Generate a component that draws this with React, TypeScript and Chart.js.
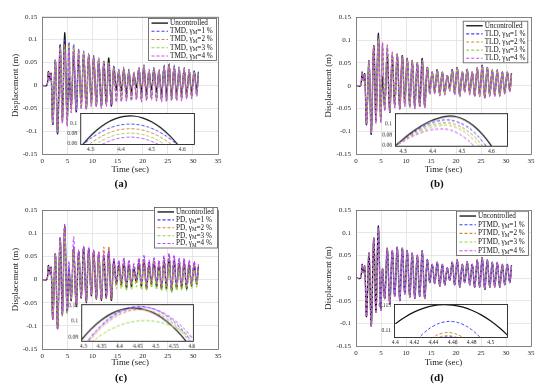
import React, { useEffect, useRef } from "react";
import { Chart, registerables } from "chart.js";
Chart.register(...registerables);

const FONT = "'Liberation Serif', 'Times New Roman', serif";

// ---------- main time-history data ----------
const TIME = [0, 0.9, 1.2, 1.5, 1.75, 2.1, 2.6, 3.05, 3.55, 4.0, 4.45, 4.95, 5.3,
  5.75, 6.25, 6.75, 7.25, 7.75, 8.25, 8.75, 9.25, 9.75, 10.25,
  10.75, 11.25, 11.75, 12.25, 12.75, 13.25, 13.75, 14.25, 14.75, 15.25,
  15.75, 16.25, 16.75, 17.25, 17.75, 18.25, 18.75, 19.25, 19.75, 20.25,
  20.75, 21.25, 21.75, 22.25, 22.75, 23.25, 23.75, 24.25, 24.75, 25.25,
  25.75, 26.25, 26.75, 27.25, 27.75, 28.25, 28.75, 29.25, 29.75, 30.25,
  30.75, 31.1];
const X_TICKS = [0, 5, 10, 15, 20, 25, 30, 35];
const Y_TICKS = [-0.15, -0.1, -0.05, 0, 0.05, 0.1, 0.15];
const LEVELS = [1, 2, 3, 4];

const UNCONTROLLED = [0, 0, 0.03, 0.012, 0.026, -0.085, 0.055, -0.106, 0.088, -0.075, 0.115, -0.07, 0.02,
  -0.045, 0.066, -0.058, 0.06, -0.04, 0.068, -0.05, 0.066, -0.035, 0.06,
  -0.042, 0.055, -0.045, 0.05, -0.04, 0.06, -0.045, 0.04, -0.01, 0.03,
  -0.012, 0.035, -0.018, 0.03, -0.015, 0.022, -0.005, 0.035, -0.015, 0.04,
  -0.02, 0.03, -0.01, 0.036, -0.015, 0.03, -0.02, 0.04, -0.02, 0.045,
  -0.025, 0.04, -0.02, 0.035, -0.02, 0.035, -0.02, 0.03, -0.015, 0.03,
  -0.01, 0.028];

const TMD_1 = [0, 0, 0.03, 0.012, 0.026, -0.085, 0.055, -0.105, 0.087, -0.078, 0.099, -0.08, 0.095,
  -0.05, 0.09, -0.055, 0.08, -0.045, 0.075, -0.05, 0.07, -0.04, 0.065,
  -0.045, 0.06, -0.045, 0.055, -0.04, 0.05, -0.045, 0.042, -0.03, 0.035,
  -0.03, 0.04, -0.032, 0.035, -0.03, 0.03, -0.025, 0.04, -0.03, 0.045,
  -0.03, 0.035, -0.025, 0.04, -0.03, 0.035, -0.03, 0.045, -0.03, 0.048,
  -0.03, 0.045, -0.03, 0.04, -0.028, 0.04, -0.025, 0.035, -0.025, 0.032,
  -0.02, 0.03];
const TMD_2 = [0, 0, 0.03, 0.012, 0.025, -0.084, 0.054, -0.103, 0.085, -0.08, 0.09, -0.085, 0.09,
  -0.055, 0.085, -0.05, 0.078, -0.048, 0.072, -0.05, 0.068, -0.042, 0.062,
  -0.045, 0.058, -0.046, 0.052, -0.042, 0.05, -0.04, 0.04, -0.032, 0.032,
  -0.032, 0.038, -0.03, 0.032, -0.03, 0.03, -0.028, 0.038, -0.032, 0.042,
  -0.03, 0.033, -0.028, 0.038, -0.03, 0.033, -0.032, 0.042, -0.032, 0.045,
  -0.03, 0.042, -0.03, 0.038, -0.03, 0.038, -0.026, 0.033, -0.025, 0.03,
  -0.02, 0.028];
const TMD_3 = [0, 0, 0.03, 0.011, 0.024, -0.083, 0.053, -0.1, 0.083, -0.082, 0.081, -0.088, 0.085,
  -0.058, 0.08, -0.052, 0.075, -0.05, 0.07, -0.052, 0.065, -0.045, 0.06,
  -0.046, 0.055, -0.048, 0.05, -0.044, 0.048, -0.042, 0.038, -0.035, 0.03,
  -0.034, 0.036, -0.032, 0.03, -0.032, 0.028, -0.03, 0.036, -0.034, 0.04,
  -0.032, 0.031, -0.03, 0.036, -0.032, 0.031, -0.034, 0.04, -0.034, 0.043,
  -0.032, 0.04, -0.032, 0.036, -0.032, 0.036, -0.028, 0.031, -0.027, 0.028,
  -0.022, 0.026];
const TMD_4 = [0, 0, 0.03, 0.011, 0.023, -0.082, 0.052, -0.098, 0.08, -0.083, 0.0735, -0.09, 0.08,
  -0.06, 0.075, -0.055, 0.072, -0.052, 0.068, -0.054, 0.062, -0.047, 0.058,
  -0.048, 0.052, -0.05, 0.048, -0.046, 0.046, -0.044, 0.036, -0.037, 0.028,
  -0.036, 0.034, -0.034, 0.028, -0.034, 0.026, -0.032, 0.034, -0.036, 0.038,
  -0.034, 0.029, -0.032, 0.034, -0.034, 0.029, -0.036, 0.038, -0.036, 0.041,
  -0.034, 0.038, -0.034, 0.034, -0.034, 0.034, -0.03, 0.029, -0.029, 0.026,
  -0.024, 0.024];

const TLD_1 = [0, 0, 0.03, 0.012, 0.026, -0.085, 0.055, -0.105, 0.087, -0.078, 0.11, -0.075, 0.085,
  -0.05, 0.08, -0.06, 0.068, -0.045, 0.07, -0.052, 0.066, -0.04, 0.06,
  -0.045, 0.056, -0.048, 0.05, -0.045, 0.058, -0.045, 0.04, -0.015, 0.03,
  -0.015, 0.035, -0.02, 0.03, -0.017, 0.023, -0.008, 0.035, -0.017, 0.04,
  -0.021, 0.031, -0.012, 0.036, -0.017, 0.031, -0.021, 0.04, -0.021, 0.045,
  -0.026, 0.04, -0.021, 0.035, -0.021, 0.035, -0.021, 0.03, -0.016, 0.03,
  -0.011, 0.028];
const TLD_2 = [0, 0, 0.03, 0.012, 0.025, -0.084, 0.054, -0.104, 0.086, -0.079, 0.105, -0.078, 0.09,
  -0.052, 0.085, -0.058, 0.07, -0.046, 0.07, -0.052, 0.064, -0.042, 0.06,
  -0.046, 0.055, -0.05, 0.05, -0.046, 0.056, -0.046, 0.04, -0.017, 0.03,
  -0.016, 0.034, -0.02, 0.03, -0.018, 0.023, -0.01, 0.034, -0.018, 0.04,
  -0.022, 0.031, -0.013, 0.036, -0.018, 0.031, -0.022, 0.04, -0.022, 0.044,
  -0.026, 0.04, -0.022, 0.035, -0.022, 0.035, -0.022, 0.03, -0.017, 0.03,
  -0.012, 0.027];
const TLD_3 = [0, 0, 0.03, 0.011, 0.024, -0.083, 0.053, -0.102, 0.085, -0.08, 0.1, -0.08, 0.092,
  -0.054, 0.088, -0.056, 0.072, -0.047, 0.068, -0.05, 0.062, -0.044, 0.058,
  -0.047, 0.054, -0.05, 0.048, -0.047, 0.054, -0.047, 0.038, -0.018, 0.03,
  -0.017, 0.033, -0.021, 0.029, -0.019, 0.022, -0.011, 0.033, -0.019, 0.039,
  -0.023, 0.03, -0.014, 0.035, -0.019, 0.03, -0.023, 0.039, -0.023, 0.043,
  -0.027, 0.039, -0.023, 0.034, -0.023, 0.034, -0.023, 0.029, -0.018, 0.029,
  -0.013, 0.026];
const TLD_4 = [0, 0, 0.03, 0.011, 0.023, -0.082, 0.052, -0.1, 0.084, -0.082, 0.095, -0.082, 0.095,
  -0.056, 0.09, -0.055, 0.074, -0.048, 0.066, -0.05, 0.06, -0.045, 0.056,
  -0.048, 0.052, -0.05, 0.046, -0.048, 0.052, -0.048, 0.036, -0.019, 0.029,
  -0.018, 0.032, -0.022, 0.028, -0.02, 0.021, -0.012, 0.032, -0.02, 0.038,
  -0.024, 0.029, -0.015, 0.034, -0.02, 0.029, -0.024, 0.038, -0.024, 0.042,
  -0.028, 0.038, -0.024, 0.033, -0.024, 0.033, -0.024, 0.028, -0.019, 0.028,
  -0.014, 0.025];

const PD_1 = [0, 0, 0.03, 0.012, 0.026, -0.085, 0.056, -0.106, 0.09, -0.078, 0.119, -0.07, 0.03,
  -0.04, 0.07, -0.055, 0.062, -0.038, 0.07, -0.048, 0.068, -0.033, 0.062,
  -0.04, 0.058, -0.042, 0.055, -0.036, 0.062, -0.04, 0.045, -0.005, 0.04,
  -0.005, 0.045, -0.01, 0.04, -0.008, 0.032, 0, 0.045, -0.008, 0.05,
  -0.012, 0.04, -0.003, 0.046, -0.008, 0.04, -0.012, 0.05, -0.012, 0.055,
  -0.016, 0.05, -0.012, 0.045, -0.012, 0.044, -0.012, 0.04, -0.008, 0.038,
  -0.004, 0.032];
const PD_2 = [0, 0, 0.03, 0.012, 0.026, -0.085, 0.055, -0.105, 0.088, -0.077, 0.115, -0.07, 0.025,
  -0.045, 0.066, -0.057, 0.06, -0.04, 0.068, -0.05, 0.066, -0.035, 0.062,
  -0.042, 0.06, -0.044, 0.07, -0.04, 0.072, -0.042, 0.042, -0.01, 0.034,
  -0.01, 0.038, -0.015, 0.034, -0.012, 0.026, -0.004, 0.038, -0.012, 0.043,
  -0.017, 0.034, -0.008, 0.04, -0.012, 0.034, -0.017, 0.043, -0.017, 0.048,
  -0.022, 0.043, -0.017, 0.038, -0.017, 0.038, -0.017, 0.034, -0.012, 0.033,
  -0.008, 0.03];
const PD_3 = [0, 0, 0.03, 0.011, 0.024, -0.083, 0.052, -0.1, 0.083, -0.08, 0.101, -0.075, 0.01,
  -0.04, 0.055, -0.045, 0.05, -0.035, 0.055, -0.04, 0.052, -0.03, 0.048,
  -0.035, 0.045, -0.036, 0.042, -0.032, 0.045, -0.035, 0.03, -0.02, 0.02,
  -0.02, 0.022, -0.024, 0.02, -0.022, 0.014, -0.016, 0.022, -0.022, 0.025,
  -0.025, 0.02, -0.018, 0.023, -0.022, 0.02, -0.025, 0.026, -0.025, 0.03,
  -0.028, 0.026, -0.024, 0.023, -0.024, 0.022, -0.024, 0.02, -0.02, 0.02,
  -0.016, 0.018];
const PD_4 = [0, 0, 0.03, 0.012, 0.026, -0.085, 0.056, -0.106, 0.092, -0.076, 0.118, -0.068, 0.04,
  -0.038, 0.092, -0.054, 0.064, -0.037, 0.072, -0.047, 0.07, -0.032, 0.064,
  -0.039, 0.06, -0.041, 0.056, -0.035, 0.064, -0.039, 0.047, -0.004, 0.042,
  -0.004, 0.047, -0.009, 0.042, -0.007, 0.034, 0.001, 0.047, -0.007, 0.052,
  -0.011, 0.042, -0.002, 0.048, -0.007, 0.042, -0.011, 0.052, -0.011, 0.057,
  -0.015, 0.052, -0.011, 0.047, -0.011, 0.046, -0.011, 0.042, -0.007, 0.04,
  -0.003, 0.033];

const PTMD_1 = [0, 0, 0.03, 0.012, 0.026, -0.085, 0.055, -0.105, 0.087, -0.075, 0.112, -0.07, 0.02,
  -0.045, 0.065, -0.057, 0.06, -0.04, 0.067, -0.05, 0.065, -0.035, 0.06,
  -0.042, 0.055, -0.044, 0.05, -0.04, 0.059, -0.045, 0.04, -0.01, 0.03,
  -0.012, 0.034, -0.018, 0.03, -0.015, 0.022, -0.005, 0.034, -0.015, 0.04,
  -0.02, 0.03, -0.01, 0.035, -0.015, 0.03, -0.02, 0.04, -0.02, 0.044,
  -0.024, 0.04, -0.02, 0.035, -0.02, 0.034, -0.02, 0.03, -0.015, 0.03,
  -0.01, 0.028];
const PTMD_2 = [0, 0, 0.03, 0.012, 0.026, -0.085, 0.055, -0.105, 0.087, -0.075, 0.1095, -0.07, 0.02,
  -0.045, 0.065, -0.057, 0.06, -0.04, 0.067, -0.05, 0.065, -0.035, 0.06,
  -0.042, 0.055, -0.044, 0.05, -0.04, 0.059, -0.045, 0.04, -0.01, 0.03,
  -0.012, 0.034, -0.018, 0.03, -0.015, 0.022, -0.005, 0.034, -0.015, 0.04,
  -0.02, 0.03, -0.01, 0.035, -0.015, 0.03, -0.02, 0.04, -0.02, 0.044,
  -0.024, 0.04, -0.02, 0.035, -0.02, 0.034, -0.02, 0.03, -0.015, 0.03,
  -0.01, 0.028];
const PTMD_3 = [0, 0, 0.03, 0.012, 0.026, -0.085, 0.055, -0.105, 0.087, -0.075, 0.1089, -0.07, 0.02,
  -0.045, 0.065, -0.057, 0.06, -0.04, 0.067, -0.05, 0.065, -0.035, 0.06,
  -0.042, 0.055, -0.044, 0.05, -0.04, 0.059, -0.045, 0.04, -0.01, 0.03,
  -0.012, 0.034, -0.018, 0.03, -0.015, 0.022, -0.005, 0.034, -0.015, 0.04,
  -0.02, 0.03, -0.01, 0.035, -0.015, 0.03, -0.02, 0.04, -0.02, 0.044,
  -0.024, 0.04, -0.02, 0.035, -0.02, 0.034, -0.02, 0.03, -0.015, 0.03,
  -0.01, 0.028];
const PTMD_4 = [0, 0, 0.03, 0.012, 0.026, -0.085, 0.055, -0.105, 0.087, -0.075, 0.1088, -0.07, 0.02,
  -0.045, 0.065, -0.057, 0.06, -0.04, 0.067, -0.05, 0.065, -0.035, 0.06,
  -0.042, 0.055, -0.044, 0.05, -0.04, 0.059, -0.045, 0.04, -0.01, 0.03,
  -0.012, 0.034, -0.018, 0.03, -0.015, 0.022, -0.005, 0.034, -0.015, 0.04,
  -0.02, 0.03, -0.01, 0.035, -0.015, 0.03, -0.02, 0.04, -0.02, 0.044,
  -0.024, 0.04, -0.02, 0.035, -0.02, 0.034, -0.02, 0.03, -0.015, 0.03,
  -0.01, 0.028];

// ---------- inset (zoom) data ----------
const INSET_A_X = [4.26, 4.29, 4.32, 4.35, 4.38, 4.41, 4.44, 4.47, 4.5, 4.53, 4.56, 4.59, 4.62, 4.65];
const INSET_A_UNC = [0.048, 0.0695, 0.0869, 0.1002, 0.1092, 0.1141, 0.1148, 0.1113, 0.1036, 0.0918, 0.0758, 0.0556, 0.0312, 0.0027];
const INSET_A_1 = [0.0499, 0.0657, 0.0784, 0.0881, 0.0948, 0.0983, 0.0988, 0.0963, 0.0907, 0.082, 0.0703, 0.0555, 0.0376, 0.0167];
const INSET_A_2 = [0.0409, 0.0567, 0.0694, 0.0791, 0.0858, 0.0893, 0.0898, 0.0873, 0.0817, 0.073, 0.0613, 0.0465, 0.0286, 0.0077];
const INSET_A_3 = [0.0322, 0.048, 0.0607, 0.0704, 0.0771, 0.0806, 0.0811, 0.0786, 0.073, 0.0643, 0.0526, 0.0378, 0.0199, -0.001];
const INSET_A_4 = [0.0244, 0.0402, 0.0529, 0.0626, 0.0693, 0.0728, 0.0733, 0.0708, 0.0652, 0.0565, 0.0448, 0.03, 0.0121, -0.0088];

const INSET_B_X = [4.27, 4.3, 4.33, 4.36, 4.39, 4.42, 4.45, 4.48, 4.51, 4.54, 4.57, 4.6, 4.63, 4.66];
const INSET_B_UNC = [0.058, 0.072, 0.085, 0.096, 0.105, 0.111, 0.1148, 0.114, 0.108, 0.097, 0.081, 0.06, 0.036, 0.01];
const INSET_B_1 = [0.058, 0.071, 0.083, 0.093, 0.101, 0.106, 0.108, 0.105, 0.098, 0.086, 0.068, 0.046, 0.02, -0.01];
const INSET_B_2 = [0.058, 0.07, 0.081, 0.09, 0.097, 0.101, 0.1025, 0.099, 0.091, 0.078, 0.06, 0.038, 0.012, -0.02];
const INSET_B_3 = [0.058, 0.069, 0.079, 0.087, 0.093, 0.097, 0.098, 0.094, 0.085, 0.071, 0.052, 0.029, 0.002, -0.03];
const INSET_B_4 = [0.058, 0.068, 0.077, 0.084, 0.089, 0.091, 0.0905, 0.085, 0.075, 0.06, 0.04, 0.016, -0.012, -0.04];

const INSET_C_X = [4.29, 4.32, 4.35, 4.38, 4.41, 4.44, 4.47, 4.5, 4.53, 4.56, 4.59, 4.62];
const INSET_C_UNC = [0.0744, 0.0899, 0.102, 0.1105, 0.1155, 0.117, 0.1149, 0.1093, 0.1002, 0.0876, 0.0714, 0.0517];
const INSET_C_1 = [0.0607, 0.08, 0.0954, 0.107, 0.1147, 0.1185, 0.1185, 0.1147, 0.107, 0.0954, 0.08, 0.0607];
const INSET_C_2 = [0.0587, 0.0773, 0.0922, 0.1034, 0.1108, 0.1145, 0.1145, 0.1108, 0.1034, 0.0922, 0.0773, 0.0587];
const INSET_C_3 = [0.0608, 0.0731, 0.0831, 0.091, 0.0965, 0.0999, 0.101, 0.0999, 0.0965, 0.091, 0.0831, 0.0731];
const INSET_C_4 = [0.062, 0.08, 0.0945, 0.1056, 0.1131, 0.1172, 0.1178, 0.1149, 0.1085, 0.0986, 0.0852, 0.0683];

const INSET_D_X = [4.4, 4.41, 4.42, 4.43, 4.44, 4.45, 4.46, 4.47, 4.48, 4.49, 4.5, 4.51, 4.52];
const INSET_D_UNC = [0.11126, 0.11261, 0.11368, 0.11445, 0.11494, 0.11514, 0.11506, 0.11468, 0.11402, 0.11307, 0.11183, 0.11031, 0.10849];
const INSET_D_1 = [0.10135, 0.10468, 0.10737, 0.10942, 0.11083, 0.11159, 0.11172, 0.11121, 0.11006, 0.10827, 0.10583, 0.10276, 0.09905];
const INSET_D_2 = [0.0974, 0.1014, 0.1046, 0.107, 0.1086, 0.1094, 0.1094, 0.1086, 0.107, 0.1046, 0.1014, 0.0974, 0.0926];
const INSET_D_3 = [0.0968, 0.1008, 0.104, 0.1064, 0.108, 0.1088, 0.1088, 0.108, 0.1064, 0.104, 0.1008, 0.0968, 0.092];
const INSET_D_4 = [0.09665, 0.10065, 0.10385, 0.10625, 0.10785, 0.10865, 0.10865, 0.10785, 0.10625, 0.10385, 0.10065, 0.09665, 0.09185];

// ---------- styles ----------
const COLORS = ["#3c3cff", "#d2843c", "#96d24a", "#c64cf2"];
const BLACK = "#141414";

type Rect = { x: number; y: number; w: number; h: number };

const fmt = (v: number) => String(parseFloat(Number(v).toFixed(4)));

function drawLabel(ctx: CanvasRenderingContext2D, text: string, x: number, y: number, size: number) {
  const idx = text.indexOf("_");
  ctx.fillStyle = "#111";
  ctx.textBaseline = "middle";
  ctx.textAlign = "left";
  if (idx < 0) {
    ctx.font = `${size}px ${FONT}`;
    ctx.fillText(text, x, y);
    return;
  }
  const pre = text.slice(0, idx);
  const sub = text.slice(idx + 1, idx + 2);
  const post = text.slice(idx + 2);
  ctx.font = `${size}px ${FONT}`;
  ctx.fillText(pre, x, y);
  let cx = x + ctx.measureText(pre).width;
  ctx.font = `${size * 0.72}px ${FONT}`;
  ctx.fillText(sub, cx, y + size * 0.25);
  cx += ctx.measureText(sub).width;
  ctx.font = `${size}px ${FONT}`;
  ctx.fillText(post, cx, y);
}

function framePlugin(color: string, fill: string | null, lw: number) {
  return {
    id: "frame",
    beforeDraw(chart: any) {
      if (!fill) return;
      const { ctx, chartArea: a } = chart;
      ctx.save();
      ctx.fillStyle = fill;
      ctx.fillRect(a.left, a.top, a.right - a.left, a.bottom - a.top);
      ctx.restore();
    },
    afterDatasetsDraw(chart: any) {
      const { ctx, chartArea: a } = chart;
      ctx.save();
      ctx.strokeStyle = color;
      ctx.lineWidth = lw;
      ctx.setLineDash([]);
      ctx.strokeRect(Math.round(a.left) + 0.5, Math.round(a.top) + 0.5, Math.round(a.right - a.left), Math.round(a.bottom - a.top));
      ctx.restore();
    },
  };
}

function legendPlugin(box: Rect, size: number) {
  return {
    id: "customLegend",
    afterDraw(chart: any) {
      const ctx: CanvasRenderingContext2D = chart.ctx;
      ctx.save();
      ctx.fillStyle = "#fff";
      ctx.fillRect(box.x, box.y, box.w, box.h);
      ctx.strokeStyle = "#555";
      ctx.lineWidth = 0.8;
      ctx.strokeRect(box.x + 0.5, box.y + 0.5, box.w - 1, box.h - 1);
      const ds = chart.data.datasets;
      const rowH = (box.h - 2) / ds.length;
      ds.forEach((d: any, i: number) => {
        const cy = box.y + 1 + rowH * (i + 0.5);
        ctx.beginPath();
        ctx.setLineDash(d.borderDash || []);
        ctx.strokeStyle = d.borderColor;
        ctx.lineWidth = d.borderWidth;
        ctx.moveTo(box.x + 3.5, cy);
        ctx.lineTo(box.x + 20, cy);
        ctx.stroke();
        ctx.setLineDash([]);
        drawLabel(ctx, d.label, box.x + 22, cy, size);
      });
      ctx.restore();
    },
  };
}

type SeriesDef = { label: string; xs: number[]; ys: number[]; color: string; dash: number[]; width: number; order: number };

function makeSeries(device: string, xs: number[], unc: number[], ctrl: number[][], widthMain: number, widthDash: number): SeriesDef[] {
  const list: SeriesDef[] = [{ label: "Uncontrolled", xs, ys: unc, color: BLACK, dash: [], width: widthMain, order: 5 }];
  LEVELS.forEach((lv, i) => {
    list.push({ label: `${device}, γ_M=${lv} %`, xs, ys: ctrl[i], color: COLORS[i], dash: [3, 2], width: widthDash, order: 4 - i });
  });
  return list;
}

function toDatasets(series: SeriesDef[]) {
  return series.map((s) => ({
    label: s.label,
    data: s.xs.map((x, i) => ({ x, y: s.ys[i] })).filter((p) => p.y !== undefined),
    borderColor: s.color,
    borderWidth: s.width,
    borderDash: s.dash,
    pointRadius: 0,
    tension: 0.4,
    fill: false,
    order: s.order,
  }));
}

type PanelDef = {
  key: string;
  left: number; top: number; width: number; height: number;
  area: { l: number; t: number; r: number; b: number };
  yTitleX: number; xTitleY: number;
  legend: Rect;
  label: { x: number; y: number };
  device: string;
  ctrl: number[][];
  inset: {
    box: Rect; xMin: number; xMax: number; yMin: number; yMax: number;
    xTicks: number[]; yTicks: number[]; xs: number[]; unc: number[]; ctrl: number[][];
  };
};

const PANELS: PanelDef[] = [
  {
    key: "(a)", left: 0, top: 0, width: 275, height: 195,
    area: { l: 42.3, t: 16.7, r: 218, b: 154 }, yTitleX: 16, xTitleY: 170,
    legend: { x: 148, y: 18, w: 69, h: 43 }, label: { x: 121, y: 183 },
    device: "TMD", ctrl: [TMD_1, TMD_2, TMD_3, TMD_4],
    inset: {
      box: { x: 80, y: 110.7, w: 113.5, h: 33.6 }, xMin: 4.266, xMax: 4.639, yMin: 0.06, yMax: 0.12,
      xTicks: [4.3, 4.4, 4.5, 4.6], yTicks: [0.06, 0.08, 0.1],
      xs: INSET_A_X, unc: INSET_A_UNC, ctrl: [INSET_A_1, INSET_A_2, INSET_A_3, INSET_A_4],
    },
  },
  {
    key: "(b)", left: 275, top: 0, width: 275, height: 195,
    area: { l: 356, t: 17.3, r: 531, b: 154.3 }, yTitleX: 328.3, xTitleY: 170,
    legend: { x: 462.7, y: 20.7, w: 65.6, h: 42.6 }, label: { x: 437, y: 183 },
    device: "TLD", ctrl: [TLD_1, TLD_2, TLD_3, TLD_4],
    inset: {
      box: { x: 395, y: 111, w: 112.3, h: 34.7 }, xMin: 4.273, xMax: 4.653, yMin: 0.06, yMax: 0.12,
      xTicks: [4.3, 4.4, 4.5, 4.6], yTicks: [0.06, 0.08, 0.1],
      xs: INSET_B_X, unc: INSET_B_UNC, ctrl: [INSET_B_1, INSET_B_2, INSET_B_3, INSET_B_4],
    },
  },
  {
    key: "(c)", left: 0, top: 195, width: 275, height: 196,
    area: { l: 42.3, t: 210, r: 218, b: 349 }, yTitleX: 16, xTitleY: 363,
    legend: { x: 154, y: 207, w: 64, h: 41.5 }, label: { x: 121, y: 377 },
    device: "PD", ctrl: [PD_1, PD_2, PD_3, PD_4],
    inset: {
      box: { x: 81, y: 302.3, w: 111.7, h: 38.4 }, xMin: 4.2936, xMax: 4.603, yMin: 0.0755, yMax: 0.1215,
      xTicks: [4.3, 4.35, 4.4, 4.45, 4.5, 4.55, 4.6], yTicks: [0.08, 0.1, 0.12],
      xs: INSET_C_X, unc: INSET_C_UNC, ctrl: [INSET_C_1, INSET_C_2, INSET_C_3, INSET_C_4],
    },
  },
  {
    key: "(d)", left: 275, top: 195, width: 275, height: 196,
    area: { l: 356, t: 210, r: 531, b: 346 }, yTitleX: 328.3, xTitleY: 363,
    legend: { x: 456, y: 210.7, w: 73, h: 45.3 }, label: { x: 437, y: 377 },
    device: "PTMD", ctrl: [PTMD_1, PTMD_2, PTMD_3, PTMD_4],
    inset: {
      box: { x: 394.3, y: 302.3, w: 113, h: 35 }, xMin: 4.3986, xMax: 4.517, yMin: 0.1086, yMax: 0.1152,
      xTicks: [4.4, 4.42, 4.44, 4.46, 4.48, 4.5], yTicks: [0.11, 0.115],
      xs: INSET_D_X, unc: INSET_D_UNC, ctrl: [INSET_D_1, INSET_D_2, INSET_D_3, INSET_D_4],
    },
  },
];

function mainConfig(p: PanelDef): any {
  const tickSize = 7;
  const titleSize = 8.8;
  const lh = titleSize * 1.2;
  const series = makeSeries(p.device, TIME, UNCONTROLLED, p.ctrl, 1.35, 1.05);
  const legendBox = { x: p.legend.x - p.left, y: p.legend.y - p.top, w: p.legend.w, h: p.legend.h };
  return {
    type: "line",
    data: { datasets: toDatasets(series) },
    options: {
      animation: false,
      responsive: false,
      maintainAspectRatio: false,
      devicePixelRatio: 1,
      layout: { padding: { top: p.area.t - p.top, right: p.left + p.width - p.area.r, left: 0, bottom: 0 } },
      plugins: { legend: { display: false }, tooltip: { enabled: false } },
      scales: {
        x: {
          type: "linear", min: 0, max: 35,
          afterBuildTicks: (s: any) => { s.ticks = X_TICKS.map((v) => ({ value: v })); },
          afterFit: (s: any) => { s.height = p.top + p.height - p.area.b; },
          grid: { color: "#e1e1e1", lineWidth: 0.8, drawTicks: false },
          border: { display: false },
          ticks: { padding: 2.5, autoSkip: false, maxRotation: 0, color: "#262626", font: { family: FONT, size: tickSize }, callback: (v: any) => fmt(v) },
          title: { display: true, text: "Time (sec)", color: "#1a1a1a", font: { family: FONT, size: titleSize }, padding: { top: 0, bottom: p.top + p.height - p.xTitleY - lh / 2 } },
        },
        y: {
          type: "linear", min: -0.15, max: 0.15,
          afterBuildTicks: (s: any) => { s.ticks = Y_TICKS.map((v) => ({ value: v })); },
          afterFit: (s: any) => { s.width = p.area.l - p.left; },
          grid: { color: "#e1e1e1", lineWidth: 0.8, drawTicks: false },
          border: { display: false },
          ticks: { padding: 5, autoSkip: false, color: "#262626", font: { family: FONT, size: tickSize }, callback: (v: any) => fmt(v) },
          title: { display: true, text: "Displacement (m)", color: "#1a1a1a", font: { family: FONT, size: titleSize }, padding: { top: p.yTitleX - p.left - lh / 2, bottom: 0 } },
        },
      },
    },
    plugins: [framePlugin("#6a6a6a", null, 0.8), legendPlugin(legendBox, 7.2)],
  };
}

const INSET_PAD = { l: 24, t: 4, r: 12, b: 13 };

function insetConfig(p: PanelDef): any {
  const ins = p.inset;
  const series = makeSeries(p.device, ins.xs, ins.unc, ins.ctrl, 1.2, 0.95);
  const tf = { family: FONT, size: 5.6 };
  return {
    type: "line",
    data: { datasets: toDatasets(series) },
    options: {
      animation: false,
      responsive: false,
      maintainAspectRatio: false,
      devicePixelRatio: 1,
      layout: { padding: { top: INSET_PAD.t, right: INSET_PAD.r, left: 0, bottom: 0 } },
      plugins: { legend: { display: false }, tooltip: { enabled: false } },
      scales: {
        x: {
          type: "linear", min: ins.xMin, max: ins.xMax,
          afterBuildTicks: (s: any) => { s.ticks = ins.xTicks.map((v) => ({ value: v })); },
          afterFit: (s: any) => { s.height = INSET_PAD.b; },
          grid: { display: false, drawTicks: false },
          border: { display: false },
          ticks: { padding: 2.5, autoSkip: false, maxRotation: 0, color: "#262626", font: tf, callback: (v: any) => fmt(v) },
        },
        y: {
          type: "linear", min: ins.yMin, max: ins.yMax,
          afterBuildTicks: (s: any) => { s.ticks = ins.yTicks.map((v) => ({ value: v })); },
          afterFit: (s: any) => { s.width = INSET_PAD.l; },
          grid: { display: false, drawTicks: false },
          border: { display: false },
          ticks: { padding: 3, autoSkip: false, color: "#262626", font: tf, callback: (v: any) => fmt(v) },
        },
      },
    },
    plugins: [framePlugin("#222", "#ffffff", 0.9)],
  };
}

function ChartCanvas(props: { left: number; top: number; width: number; height: number; z: number; build: () => any }) {
  const ref = useRef<HTMLCanvasElement | null>(null);
  useEffect(() => {
    if (!ref.current) return;
    const chart = new Chart(ref.current, props.build());
    return () => chart.destroy();
  }, []);
  return (
    <canvas
      ref={ref}
      width={props.width}
      height={props.height}
      style={{ position: "absolute", left: props.left, top: props.top, width: props.width, height: props.height, zIndex: props.z }}
    />
  );
}

export default function App() {
  return (
    <div style={{ position: "fixed", left: 0, top: 0, width: 550, height: 391, background: "#fff", overflow: "hidden" }}>
      {PANELS.map((p) => (
        <ChartCanvas key={"m" + p.key} left={p.left} top={p.top} width={p.width} height={p.height} z={1} build={() => mainConfig(p)} />
      ))}
      {PANELS.map((p) => {
        const b = p.inset.box;
        return (
          <ChartCanvas
            key={"i" + p.key}
            left={b.x - INSET_PAD.l}
            top={b.y - INSET_PAD.t}
            width={b.w + INSET_PAD.l + INSET_PAD.r}
            height={b.h + INSET_PAD.t + INSET_PAD.b}
            z={2}
            build={() => insetConfig(p)}
          />
        );
      })}
      {PANELS.map((p) => (
        <div
          key={"l" + p.key}
          style={{
            position: "absolute", left: p.label.x - 20, top: p.label.y - 7, width: 40, height: 14,
            textAlign: "center", fontFamily: FONT, fontWeight: "bold", fontSize: 11, lineHeight: "14px", color: "#111", zIndex: 3,
          }}
        >
          {p.key}
        </div>
      ))}
    </div>
  );
}
